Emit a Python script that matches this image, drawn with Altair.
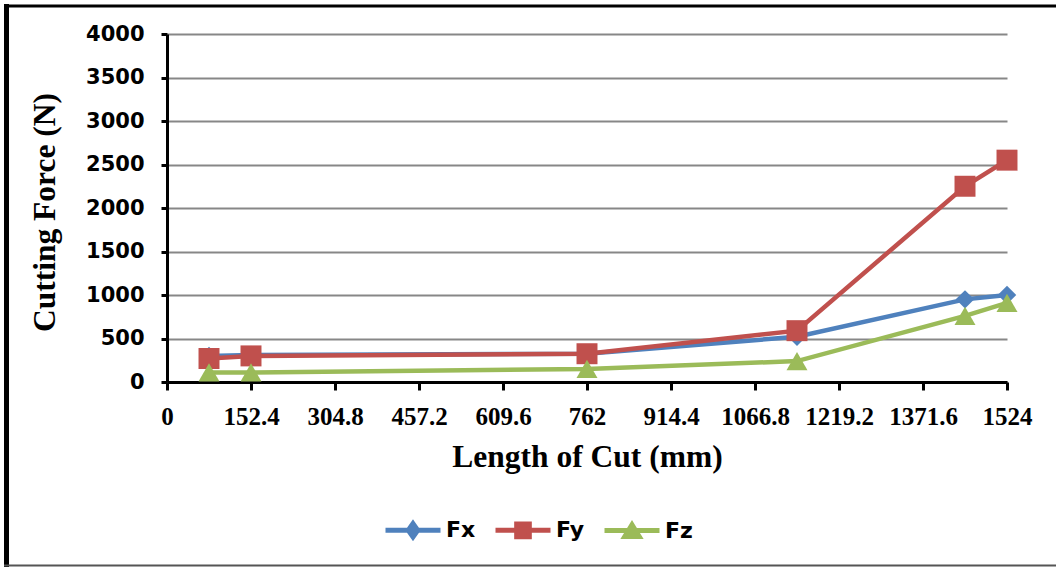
import altair as alt
import pandas as pd

# ---- data ----
lengths = [76.2, 152.4, 762, 1143, 1447.8, 1524]
fx = [300, 310, 325, 520, 950, 1000]
fy = [270, 300, 325, 590, 2250, 2550]
fz = [110, 110, 150, 240, 760, 910]

series_names = ["Fx", "Fy", "Fz"]
series_colors = ["#4F81BD", "#C0504D", "#9BBB59"]
series_shapes = ["diamond", "square", "triangle-up"]
series_sizes = [340, 440, 440]

x_ticks = [0, 152.4, 304.8, 457.2, 609.6, 762, 914.4, 1066.8, 1219.2, 1371.6, 1524]
y_ticks = [0, 500, 1000, 1500, 2000, 2500, 3000, 3500, 4000]

# legend symbols: line with marker (custom paths in unit space)
legend_paths = [
    "M-1,0L1,0M0,-0.24L0.17,0L0,0.24L-0.17,0Z",
    "M-1,0L1,0M-0.23,-0.23L0.23,-0.23L0.23,0.23L-0.23,0.23Z",
    "M-1,0L1,0M0,-0.21L0.26,0.21L-0.26,0.21Z",
]

rows = []
for name, vals in zip(series_names, [fx, fy, fz]):
    for L, v in zip(lengths, vals):
        rows.append({"length": L, "force": v, "series": name})
df = pd.DataFrame(rows)

W, H = 840, 348
PAD = {"left": 167, "top": 34, "right": 49, "bottom": 185}

serif = "Liberation Serif"
sans = "DejaVu Sans"

x_enc = alt.X(
    "length:Q",
    scale=alt.Scale(domain=[0, 1524], nice=False, zero=True),
    axis=alt.Axis(
        values=x_ticks,
        labelExpr="format(datum.value, '.1~f')",
        title="Length of Cut (mm)",
        titleFont=serif, titleFontSize=31.5, titleFontWeight="bold", titleColor="black",
        titleX=W / 2, titleY=75, titleAnchor="middle", titleBaseline="middle",
        labelFont=serif, labelFontSize=25, labelFontWeight="bold", labelColor="black",
        labelPadding=14, labelFlush=False, labelOverlap=False,
        domainColor="black", domainWidth=3,
        tickColor="black", tickWidth=3, tickSize=8,
        grid=False,
    ),
)
y_enc = alt.Y(
    "force:Q",
    scale=alt.Scale(domain=[0, 4000], nice=False),
    axis=alt.Axis(
        values=y_ticks,
        format="d",
        title="Cutting Force (N)",
        titleFont=serif, titleFontSize=31.5, titleFontWeight="bold", titleColor="black",
        titleAngle=270, titleX=-122, titleY=H / 2 + 4, titleAlign="center", titleBaseline="middle",
        labelFont=sans, labelFontSize=21, labelFontWeight="bold", labelColor="black",
        labelPadding=17,
        domainColor="black", domainWidth=3,
        tickColor="black", tickWidth=3, tickSize=6,
        grid=True, gridColor="#878787", gridWidth=2,
    ),
)

base = alt.Chart(df)
layers = []
for name, col, shp, sz in zip(series_names, series_colors, series_shapes, series_sizes):
    sub = base.transform_filter(alt.datum.series == name)
    layers.append(sub.mark_line(color=col, strokeWidth=4.5).encode(x=x_enc, y=y_enc))
    layers.append(
        sub.mark_point(filled=True, color=col, shape=shp, size=sz, opacity=1).encode(x=x_enc, y=y_enc)
    )

# legend-only layer (no data drawn)
legend_layer = base.transform_filter("false").mark_point(filled=True, opacity=1).encode(
    color=alt.Color(
        "series:N",
        scale=alt.Scale(domain=series_names, range=series_colors),
        legend=alt.Legend(
            title=None, orient="none", direction="horizontal",
            legendX=216, legendY=466,
            symbolSize=3025, symbolStrokeWidth=5,
            labelFont=sans, labelFontSize=22, labelFontWeight="bold", labelColor="black",
            labelOffset=3, columnPadding=9, padding=0,
        ),
    ),
    stroke=alt.Stroke("series:N", scale=alt.Scale(domain=series_names, range=series_colors)),
    shape=alt.Shape("series:N", scale=alt.Scale(domain=series_names, range=legend_paths)),
)

# outer chart frame (decoration)
one = alt.Data(values=[{}])
frame_left = alt.Chart(one).mark_rule(color="black", strokeWidth=5).encode(
    x=alt.value(-160.5), y=alt.value(-30), y2=alt.value(H + PAD["bottom"])
)
frame_top = alt.Chart(one).mark_rule(color="black", strokeWidth=3).encode(
    x=alt.value(-163), x2=alt.value(W + PAD["right"]), y=alt.value(-28)
)
frame_bottom = alt.Chart(one).mark_rule(color="#555555", strokeWidth=2).encode(
    x=alt.value(-163), x2=alt.value(W + PAD["right"]), y=alt.value(H + PAD["bottom"] - 1.5)
)

chart = alt.layer(*layers, legend_layer, frame_left, frame_top, frame_bottom).properties(
    width=W, height=H,
    autosize=alt.AutoSizeParams(type="none"),
    padding=PAD,
    background="white",
).configure_view(stroke=None)

chart.save("out.html", embed_options={"renderer": "svg", "actions": False})
